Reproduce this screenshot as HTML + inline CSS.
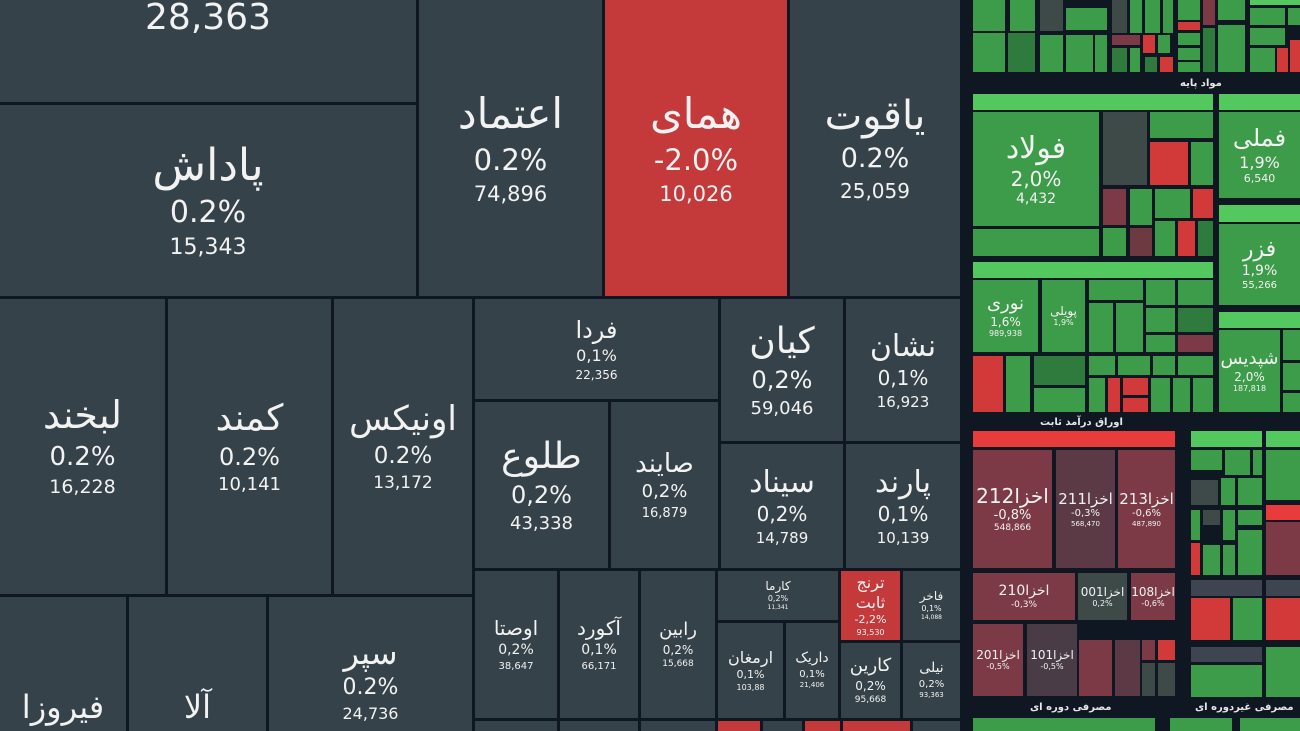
<!DOCTYPE html>
<html><head><meta charset="utf-8">
<style>
html,body{margin:0;padding:0;width:1300px;height:731px;overflow:hidden;background:#0f1822;}
#root{position:relative;width:1300px;height:731px;background:#0f1822;font-family:"DejaVu Sans","Liberation Sans",sans-serif;}
.t{position:absolute;box-sizing:border-box;display:flex;flex-direction:column;align-items:center;justify-content:center;color:#f2f2f2;text-align:center;overflow:hidden;line-height:1.35;}
.n{direction:rtl;white-space:nowrap}
.lbl{position:absolute;color:#e8e8e8;font-size:10px;font-weight:bold;direction:rtl;white-space:nowrap}
</style></head>
<body>
<div id="root"></div>
<script>
// Tile data (name, percent change, value)
const names = ["","پاداش","اعتماد","همای","یاقوت","لبخند","کمند","اونیکس","فردا","طلوع","صایند","کیان","نشان","سیناد","پارند","اوصتا","آکورد","رابین","کارما","ترنج<br>ثابت","فاخر","ارمغان","داریک","کارین","نیلی","فیروزا","آلا","سپر"];
const changes = ["","0.2%","0.2%","-2.0%","0.2%","0.2%","0.2%","0.2%","0,1%","0,2%","0,2%","0,2%","0,1%","0,2%","0,1%","0,2%","0,1%","0,2%","0,2%","-2,2%","0,1%","0,1%","0,1%","0,2%","0,2%","","",  "0.2%"];
const values = ["28,363","15,343","74,896","10,026","25,059","16,228","10,141","13,172","22,356","43,338","16,879","59,046","16,923","14,789","10,139","38,647","66,171","15,668","11,341","93,530","14,088","103,88","21,406","95,668","93,363","","","24,736"];
// layout rects [x1,y1,x2,y2] and font size
const rects = [[0,0,416,102],[0,105,416,296],[419,0,602,296],[605,0,787,296],[790,0,960,296],
[0,299,165,594],[168,299,331,594],[334,299,472,594],[475,299,718,399],[475,402,608,568],[611,402,718,568],
[721,299,843,441],[846,299,960,441],[721,444,843,568],[846,444,960,568],
[475,571,557,718],[560,571,638,718],[641,571,715,718],[718,571,838,620],[841,571,900,640],[903,571,960,640],
[718,623,783,718],[786,623,838,718],[841,643,900,718],[903,643,960,718],
[0,597,126,731],[129,597,266,731],[269,597,472,731]];
const fsz=[36,44,42,42,40,38,36,34,24,36,26,36,30,30,30,20,20,18,12,16,12,16,14,18,14,32,32,32];
const root=document.getElementById('root');
function mk(x1,y1,x2,y2,bg){const d=document.createElement('div');d.className='t';d.style.left=x1+'px';d.style.top=y1+'px';d.style.width=(x2-x1)+'px';d.style.height=(y2-y1)+'px';d.style.background=bg;root.appendChild(d);return d;}
names.forEach((nm,i)=>{
  const r=rects[i];const neg=changes[i].startsWith('-');
  const d=mk(r[0],r[1],r[2],r[3],neg?'#c4393a':'#354249');
  
  
  const f=fsz[i];
  if(i===0){d.style.justifyContent='flex-start';d.innerHTML='<div style="font-size:36px;margin-top:-6px">'+values[0]+'</div>';return;}
  let h='';
  if(nm)h+='<div class="n" style="font-size:'+f+'px;line-height:1.25">'+nm+'</div>';
  if(changes[i])h+='<div style="font-size:'+Math.round(f*0.68)+'px">'+changes[i]+'</div>';
  if(values[i])h+='<div style="font-size:'+Math.round(f*0.5)+'px">'+values[i]+'</div>';
  d.innerHTML=h;
  if(i>=25&&i<=26){d.style.justifyContent='flex-end';d.style.paddingBottom='4px';}
  if(i===27){d.style.paddingTop='30px';}
});
// bottom strip of small tiles
[[475,721,557,731,'#354249'],[560,721,638,731,'#354249'],[641,721,715,731,'#354249'],[718,721,760,731,'#c4393a'],[763,721,802,731,'#354249'],[805,721,840,731,'#c4393a'],[843,721,910,731,'#c4393a'],[913,721,960,731,'#354249']].forEach(r=>{const d=mk(r[0],r[1],r[2],r[3],r[4]);

});
// right panel
const G='#3d9c49',DG='#2f7a3d',GG='#3d4a48',M='#7b3a45',R='#d23a3a',HB='#52c85e',MR='#6e3a42';
const right=[
[973,0,1005,31,G],[1010,0,1035,31,G],[1040,0,1063,31,GG],[1066,8,1107,30,G],
[973,33,1005,72,G],[1008,33,1035,72,DG],[1040,35,1063,72,G],[1066,35,1093,72,G],[1095,35,1107,72,G],
[1112,0,1127,33,GG],[1130,0,1142,33,G],[1145,0,1160,33,G],[1163,0,1173,33,G],
[1112,35,1140,45,M],[1143,35,1155,53,R],[1158,35,1170,53,G],[1112,48,1127,72,DG],[1130,48,1140,72,G],[1160,57,1173,72,R],[1145,57,1157,72,DG],
[1178,0,1200,20,G],[1178,22,1200,30,R],[1203,0,1215,25,M],[1218,0,1245,20,G],[1178,33,1200,45,G],[1178,48,1200,60,G],[1203,28,1215,72,DG],[1218,25,1245,72,G],[1178,62,1200,72,G],
[1250,0,1300,5,HB],[1250,8,1285,25,G],[1288,8,1300,25,G],[1250,28,1285,45,G],[1250,48,1275,72,G],[1277,48,1288,72,R],[1290,40,1300,72,R],
[973,94,1213,110,HB],[973,112,1099,226,G],[973,229,1099,256,G],
[1103,112,1147,185,GG],[1150,112,1213,138,G],[1150,142,1188,185,R],[1191,142,1213,185,G],
[1103,189,1126,225,M],[1130,189,1152,225,G],[1155,189,1190,218,G],[1193,189,1213,218,R],
[1103,228,1126,256,G],[1130,228,1152,256,MR],[1155,221,1175,256,G],[1178,221,1195,256,R],[1198,221,1213,256,DG],
[1219,94,1300,110,HB],[1219,112,1300,198,G],
[1219,205,1300,222,HB],[1219,224,1300,305,G],
[973,262,1213,278,HB],[973,280,1038,352,G],[1042,280,1085,352,G],
[1089,280,1143,300,G],[1146,280,1175,305,G],[1178,280,1213,305,G],[1089,303,1113,352,G],[1116,303,1143,352,G],[1146,308,1175,332,G],[1178,308,1213,332,DG],[1146,335,1175,352,G],[1178,335,1213,352,M],
[973,356,1003,412,R],[1006,356,1030,412,G],[1034,356,1085,385,DG],[1034,388,1085,412,G],
[1089,356,1115,375,G],[1118,356,1150,375,G],[1153,356,1175,375,G],[1178,356,1213,375,G],
[1089,378,1105,412,G],[1108,378,1120,412,R],[1123,378,1148,395,R],[1123,398,1148,412,R],[1151,378,1170,412,G],[1173,378,1190,412,G],[1193,378,1213,412,G],
[1219,312,1300,328,HB],[1219,330,1280,412,G],[1283,330,1300,360,G],[1283,363,1300,390,G],[1283,393,1300,412,G],
[973,431,1175,447,'#e83b3b'],[973,450,1052,568,M],[1056,450,1115,568,'#5b3a46'],[1118,450,1175,568,M],
[973,573,1075,620,M],[1078,573,1127,620,GG],[1131,573,1175,620,M],
[973,624,1023,696,M],[1027,624,1077,696,'#4a3c46'],[1079,640,1112,696,M],[1115,640,1140,696,'#5b3a46'],[1142,640,1155,660,M],[1158,640,1175,660,R],[1142,663,1155,696,GG],[1158,663,1175,696,GG],
[1191,431,1262,447,HB],[1191,450,1222,470,G],[1225,450,1250,475,G],[1253,450,1262,475,G],[1191,480,1218,505,GG],[1221,478,1235,505,G],[1238,478,1262,505,G],
[1191,510,1200,540,G],[1203,510,1220,525,GG],[1223,510,1235,540,G],[1238,510,1262,525,G],[1191,543,1200,575,R],[1203,545,1220,575,G],[1223,545,1235,575,G],[1238,530,1262,575,G],
[1266,431,1300,447,HB],[1266,450,1300,500,G],[1266,505,1300,520,'#e83b3b'],[1266,522,1300,575,M],
[1191,580,1262,596,'#3e4550'],[1191,598,1230,640,R],[1233,598,1262,640,G],[1266,580,1300,596,'#3e4550'],[1266,598,1300,640,R],
[1191,647,1262,662,'#3e4550'],[1191,665,1262,697,G],[1266,647,1300,697,G],
[973,718,1155,731,G],[1170,718,1232,731,G],[1240,718,1300,731,G]];
right.forEach(r=>{const d=mk(r[0],r[1],r[2],r[3],r[4]);

});
const labs=[[1180,78,'مواد پایه'],[1040,417,'اوراق درآمد ثابت'],[1030,702,'مصرفی دوره ای'],[1195,702,'مصرفی غیردوره ای']];
labs.forEach(l=>{const d=document.createElement('div');d.className='lbl';d.style.left=l[0]+'px';d.style.top=l[1]+'px';d.textContent=l[2];

root.appendChild(d);});
const rl=[[973,112,1099,226,'فولاد','2,0%','4,432',30],[1219,112,1300,198,'فملی','1,9%','6,540',24],[1219,224,1300,305,'فزر','1,9%','55,266',22],[973,280,1038,352,'نوری','1,6%','989,938',18],[1042,280,1085,352,'پویلی','1,9%','',12],[1219,330,1280,412,'شپدیس','2,0%','187,818',18],
[973,450,1052,568,'اخزا212','-0,8%','548,866',20],[1056,450,1115,568,'اخزا211','-0,3%','568,470',15],[1118,450,1175,568,'اخزا213','-0,6%','487,890',15],[973,573,1075,620,'اخزا210','-0,3%','',14],[1078,573,1127,620,'اخزا001','0,2%','',12],[1131,573,1175,620,'اخزا108','-0,6%','',12],[973,624,1023,696,'اخزا201','-0,5%','',12],[1027,624,1077,696,'اخزا101','-0,5%','',12]];
rl.forEach(r=>{const d=mk(r[0],r[1],r[2],r[3],'transparent');


d.style.lineHeight='1.2';
d.innerHTML='<div class="n" style="font-size:'+r[7]+'px">'+r[4]+'</div><div style="font-size:'+Math.round(r[7]*0.65)+'px">'+r[5]+'</div><div style="font-size:'+Math.round(r[7]*0.45)+'px">'+r[6]+'</div>';});
</script>
</body></html>
